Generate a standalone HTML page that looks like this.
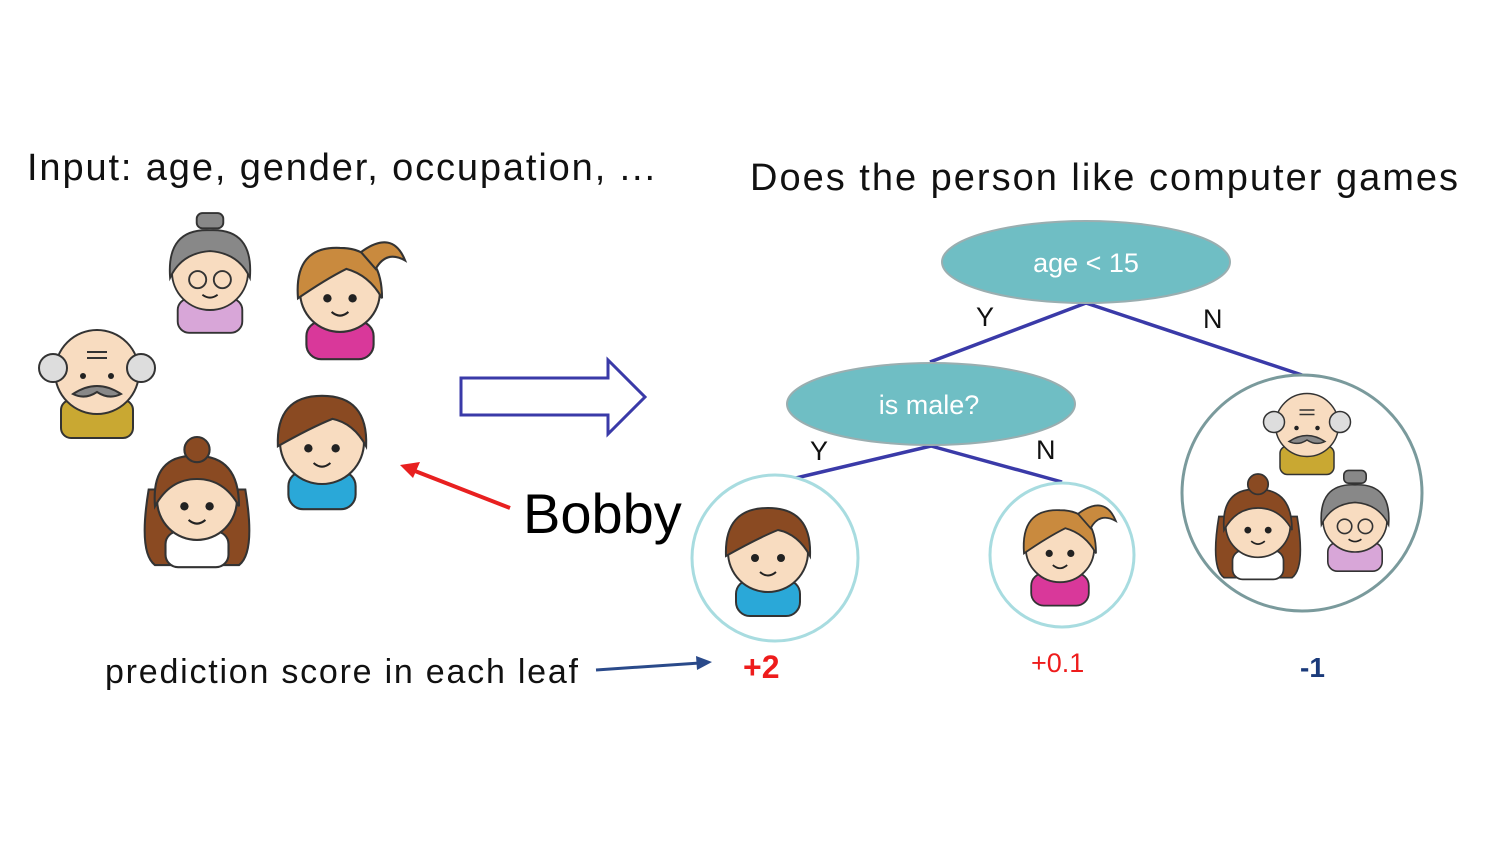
<!DOCTYPE html>
<html><head><meta charset="utf-8"><style>
html,body{margin:0;padding:0;background:#fff;}
svg{display:block}
text{font-family:"Liberation Sans",Arial,sans-serif;}
</style></head><body>
<svg width="1500" height="844" viewBox="0 0 1500 844" xmlns="http://www.w3.org/2000/svg">
<defs>
<g id="boy">
  <rect x="-32" y="28" width="64" height="36" rx="14" fill="#2aa8d8" stroke="#333" stroke-width="2"/>
  <circle cx="0" cy="0" r="40" fill="#f8dcc0" stroke="#333" stroke-width="2"/>
  <path d="M-42,4 Q-44,-44 0,-44 Q44,-44 42,4 Q30,-18 10,-22 Q-10,-14 -42,4Z" fill="#8a4a22" stroke="#333" stroke-width="2"/>
  <circle cx="-13" cy="6" r="4" fill="#222"/><circle cx="13" cy="6" r="4" fill="#222"/>
  <path d="M-8,20 Q0,27 8,20" stroke="#222" stroke-width="2" fill="none"/>
</g>
<g id="girl">
  <rect x="-32" y="28" width="64" height="36" rx="14" fill="#d9389a" stroke="#333" stroke-width="2"/>
  <circle cx="0" cy="0" r="38" fill="#f8dcc0" stroke="#333" stroke-width="2"/>
  <path d="M-40,6 Q-44,-44 0,-42 Q40,-42 40,6 Q28,-16 6,-22 Q-14,-12 -40,6Z" fill="#c98a3e" stroke="#333" stroke-width="2"/>
  <path d="M20,-38 Q50,-60 62,-30 Q44,-40 34,-22Z" fill="#c98a3e" stroke="#333" stroke-width="2"/>
  <circle cx="-12" cy="6" r="4" fill="#222"/><circle cx="12" cy="6" r="4" fill="#222"/>
  <path d="M-8,19 Q0,26 8,19" stroke="#222" stroke-width="2" fill="none"/>
</g>
<g id="curly">
  <path d="M-46,-10 Q-56,50 -40,62 L40,62 Q56,50 46,-10Z" fill="#8a4a22" stroke="#333" stroke-width="2"/>
  <rect x="-30" y="30" width="60" height="34" rx="12" fill="#fff" stroke="#333" stroke-width="2"/>
  <circle cx="0" cy="0" r="38" fill="#f8dcc0" stroke="#333" stroke-width="2"/>
  <path d="M-40,6 Q-44,-44 0,-42 Q40,-42 40,6 Q26,-20 0,-20 Q-26,-20 -40,6Z" fill="#8a4a22" stroke="#333" stroke-width="2"/>
  <circle cx="0" cy="-48" r="12" fill="#8a4a22" stroke="#333" stroke-width="2"/>
  <circle cx="-12" cy="6" r="4" fill="#222"/><circle cx="12" cy="6" r="4" fill="#222"/>
  <path d="M-8,19 Q0,26 8,19" stroke="#222" stroke-width="2" fill="none"/>
</g>
<g id="grandpa">
  <rect x="-36" y="28" width="72" height="38" rx="10" fill="#c9a832" stroke="#333" stroke-width="2"/>
  <circle cx="0" cy="0" r="42" fill="#f8dcc0" stroke="#333" stroke-width="2"/>
  <circle cx="-44" cy="-4" r="14" fill="#ddd" stroke="#333" stroke-width="2"/>
  <circle cx="44" cy="-4" r="14" fill="#ddd" stroke="#333" stroke-width="2"/>
  <path d="M-24,22 Q0,6 24,22 Q12,28 0,20 Q-12,28 -24,22Z" fill="#888" stroke="#333" stroke-width="2"/>
  <circle cx="-14" cy="4" r="3" fill="#222"/><circle cx="14" cy="4" r="3" fill="#222"/>
  <path d="M-10,-20 H10 M-10,-14 H10" stroke="#333" stroke-width="2"/>
</g>
<g id="grandma">
  <rect x="-34" y="28" width="68" height="36" rx="12" fill="#d8a6d8" stroke="#333" stroke-width="2"/>
  <circle cx="0" cy="0" r="40" fill="#f8dcc0" stroke="#333" stroke-width="2"/>
  <path d="M-42,6 Q-46,-46 0,-44 Q46,-46 42,6 Q30,-20 0,-22 Q-30,-20 -42,6Z" fill="#888" stroke="#333" stroke-width="2"/>
  <rect x="-14" y="-62" width="28" height="16" rx="6" fill="#888" stroke="#333" stroke-width="2"/>
  <circle cx="-13" cy="8" r="9" fill="none" stroke="#333" stroke-width="2"/>
  <circle cx="13" cy="8" r="9" fill="none" stroke="#333" stroke-width="2"/>
  <path d="M-8,24 Q0,30 8,24" stroke="#222" stroke-width="2" fill="none"/>
</g>
</defs>

<text x="27" y="180" font-size="38" fill="#111" textLength="628" lengthAdjust="spacing">Input: age, gender, occupation, ...</text>
<text x="750" y="190" font-size="38" fill="#111" textLength="708" lengthAdjust="spacing">Does the person like computer games</text>

<use href="#grandma" transform="translate(210,272) scale(0.95)"/>
<use href="#girl" transform="translate(340,292) scale(1.05)"/>
<use href="#grandpa" transform="translate(97,372) scale(1.0)"/>
<use href="#boy" transform="translate(322,442) scale(1.05)"/>
<use href="#curly" transform="translate(197,500) scale(1.05)"/>

<path d="M461,378 H608 V360 L645,397 L608,434 V415 H461Z" fill="#fff" stroke="#3a3aa8" stroke-width="3"/>

<line x1="510" y1="508" x2="415" y2="471" stroke="#e82020" stroke-width="4"/>
<polygon points="400,465 420,462 413,478" fill="#e82020"/>
<text x="523" y="533" font-size="56" fill="#000">Bobby</text>

<g stroke="#3a3aa8" stroke-width="3.5" fill="none">
<line x1="1086" y1="303" x2="930" y2="362"/>
<line x1="1086" y1="303" x2="1302" y2="375"/>
<line x1="931" y1="446" x2="775" y2="483"/>
<line x1="931" y1="446" x2="1062" y2="482"/>
</g>
<ellipse cx="1086" cy="262" rx="144" ry="41" fill="#6fbec4" stroke="#9aaeb0" stroke-width="2"/>
<text x="1086" y="272" font-size="27" fill="#fff" text-anchor="middle">age &lt; 15</text>
<ellipse cx="931" cy="404" rx="144" ry="41" fill="#6fbec4" stroke="#9aaeb0" stroke-width="2"/>
<text x="929" y="414" font-size="27" fill="#fff" text-anchor="middle">is male?</text>

<g font-size="27" fill="#111">
<text x="976" y="326">Y</text><text x="1203" y="328">N</text>
<text x="810" y="460">Y</text><text x="1036" y="459">N</text>
</g>

<circle cx="775" cy="558" r="83" fill="#fff" stroke="#a8dce0" stroke-width="3"/>
<circle cx="1062" cy="555" r="72" fill="#fff" stroke="#a8dce0" stroke-width="3"/>
<ellipse cx="1302" cy="493" rx="120" ry="118" fill="#fff" stroke="#7a9a9c" stroke-width="3"/>

<use href="#boy" transform="translate(768,552) scale(1.0)"/>
<use href="#girl" transform="translate(1060,548) scale(0.9)"/>
<use href="#grandpa" transform="translate(1307,425) scale(0.75)"/>
<use href="#curly" transform="translate(1258,525) scale(0.85)"/>
<use href="#grandma" transform="translate(1355,520) scale(0.8)"/>

<text x="105" y="683" font-size="34" fill="#111" textLength="473" lengthAdjust="spacing">prediction score in each leaf</text>
<line x1="596" y1="670" x2="700" y2="663" stroke="#2a4a8a" stroke-width="3"/>
<polygon points="712,662 696,656 697,670" fill="#2a4a8a"/>

<text x="743" y="678" font-size="32" font-weight="bold" fill="#ee1c1c">+2</text>
<text x="1031" y="672" font-size="27" fill="#ee1c1c">+0.1</text>
<text x="1300" y="677" font-size="28" font-weight="bold" fill="#1a3a7a">-1</text>
</svg>
</body></html>
